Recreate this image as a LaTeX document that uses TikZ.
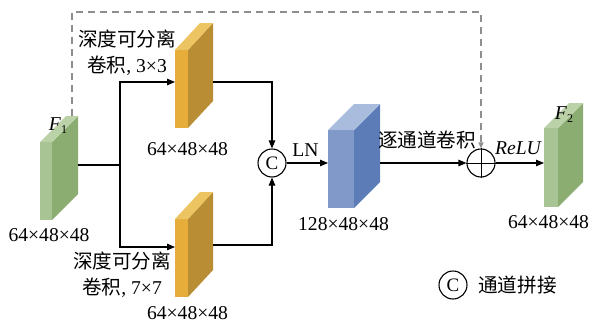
\documentclass[tikz,border=0pt]{standalone}
\usepackage{fontspec}
\setmainfont{Liberation Serif}
\newfontfamily\cjk{Noto Sans CJK SC}
\usetikzlibrary{arrows.meta}
\definecolor{gfront}{HTML}{A8C494}
\definecolor{gside}{HTML}{8BAD72}
\definecolor{gtop}{HTML}{BBD2A8}
\definecolor{ofront}{HTML}{E7AD3B}
\definecolor{oside}{HTML}{B88D33}
\definecolor{otop}{HTML}{EDC462}
\definecolor{bfront}{HTML}{8199C9}
\definecolor{bside}{HTML}{5B7CB7}
\definecolor{btop}{HTML}{A9BCDD}
\definecolor{dashgrey}{HTML}{8E8E8E}
\tikzset{
  face/.style={rectangle, inner sep=0pt, outer sep=0pt},
  lbl/.style={inner sep=0pt, font=\fontsize{19.6}{26}\selectfont, align=center},
  conn/.style={line width=1.1pt, draw=black},
  arr/.style={conn, -{Triangle[length=8pt,width=6.5pt]}},
  opcirc/.style={circle, draw, line width=1.1pt, minimum size=28pt, inner sep=0pt},
  skip/.style={draw=dashgrey, line width=1.2pt, dash pattern=on 7pt off 5pt}
}
\begin{document}
\begin{tikzpicture}[x=1pt,y=-1pt]
\useasboundingbox (0,0) rectangle (591,324);
% F1
\node[face, fill=gfront, minimum width=12pt, minimum height=78pt] (f1) at (46,181) {};
\fill[gside] (f1.north east) -- ++(26,-26) -- ++(0,78) -- (f1.south east) -- cycle;
\fill[gtop] (f1.north west) -- ++(26,-26) -- ++(12,0) -- (f1.north east) -- cycle;
% orange top
\node[face, fill=ofront, minimum width=13pt, minimum height=78pt] (o1) at (181.5,89) {};
\fill[oside] (o1.north east) -- ++(25,-27) -- ++(0,78) -- (o1.south east) -- cycle;
\fill[otop] (o1.north west) -- ++(25,-27) -- ++(13,0) -- (o1.north east) -- cycle;
% orange bottom
\node[face, fill=ofront, minimum width=13pt, minimum height=78pt] (o2) at (181.5,258) {};
\fill[oside] (o2.north east) -- ++(25,-27) -- ++(0,78) -- (o2.south east) -- cycle;
\fill[otop] (o2.north west) -- ++(25,-27) -- ++(13,0) -- (o2.north east) -- cycle;
% blue
\node[face, fill=bfront, minimum width=26pt, minimum height=78pt] (bl) at (341,169) {};
\fill[bside] (bl.north east) -- ++(26,-26) -- ++(0,78) -- (bl.south east) -- cycle;
\fill[btop] (bl.north west) -- ++(26,-26) -- ++(26,0) -- (bl.north east) -- cycle;
% F2
\node[face, fill=gfront, minimum width=14pt, minimum height=79pt] (f2) at (551,167.5) {};
\fill[gside] (f2.north east) -- ++(25,-25) -- ++(0,79) -- (f2.south east) -- cycle;
\fill[gtop] (f2.north west) -- ++(25,-25) -- ++(14,0) -- (f2.north east) -- cycle;

% operators
\node[opcirc, font=\fontsize{19}{19}\selectfont] (cc) at (272,163) {C};
\node[opcirc] (pl) at (481,163) {};
\draw[line width=1pt] (pl.north) -- (pl.south) (pl.west) -- (pl.east);

% connectors
\coordinate (f1out) at (78,165);
\coordinate (split) at (120,165);
\coordinate (o1out) at (213,82);
\coordinate (o2out) at (213,245);
\coordinate (blout) at (380,163);
\coordinate (skipstart) at (72,116);
\draw[conn] (f1out) -- (split);
\draw[arr] (split) |- (o1.west |- 0,82);
\draw[arr] (split) |- (o2.west |- 0,247);
\draw[arr] (o1out) -| (cc.north);
\draw[arr] (o2out) -| (cc.south);
\draw[arr] (cc.east) -- (bl.west |- cc.east);
\draw[arr] (blout) -- (pl.west);
\draw[arr] (pl.east) -- (f2.west |- pl.east);
\draw[skip, -{Triangle[length=6pt,width=5pt]}] (skipstart) -- (72,12) -| (pl.north);

% labels
\node[lbl] (t1) at (127,53) {{\cjk 深度可分离}\\{\cjk 卷积}, 3×3};
\node[lbl] (t2) at (122,275) {{\cjk 深度可分离}\\{\cjk 卷积}, 7×7};
\node[lbl] (d1) at (187.5,149) {64×48×48};
\node[lbl] (d0) at (49,235) {64×48×48};
\node[lbl] (d2) at (187.5,313) {64×48×48};
\node[lbl] (d3) at (343.5,224) {128×48×48};
\node[lbl] (d4) at (548.5,222) {64×48×48};
\node[lbl] (ln) at (305.5,150) {LN};
\node[lbl] (dw) at (427,140) {\cjk 逐通道卷积};
\node[lbl] (relu) at (518.5,148) {\textit{ReLU}};
\node[lbl] (lf1) at (58,126) {\textit{F}\raisebox{-0.35ex}{\fontsize{12}{12}\selectfont 1}};
\node[lbl] (lf2) at (564,115) {\textit{F}\raisebox{-0.35ex}{\fontsize{12}{12}\selectfont 2}};
% legend
\node[opcirc, font=\fontsize{19}{19}\selectfont] (lc) at (453,285) {C};
\node[lbl, anchor=west] (lt) at (478,285) {\cjk 通道拼接};
\end{tikzpicture}
\end{document}
